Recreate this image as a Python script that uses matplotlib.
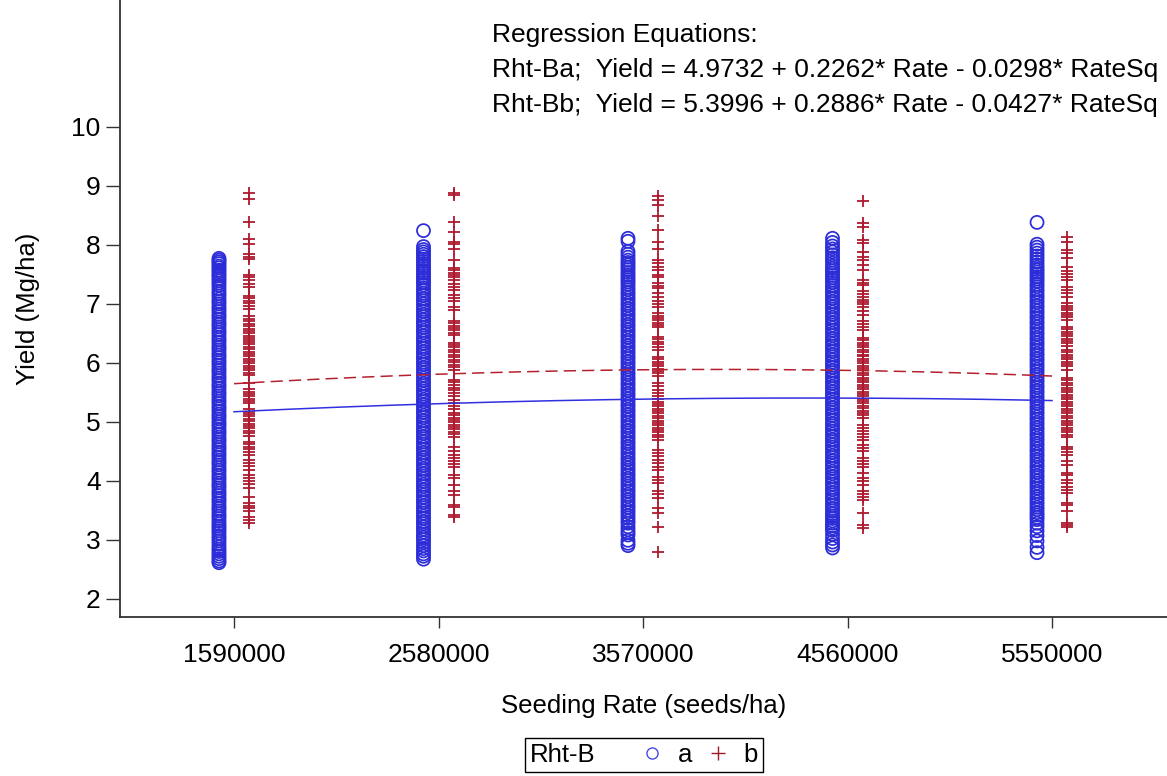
import numpy as np
import matplotlib
matplotlib.use("Agg")
import matplotlib.pyplot as plt
from matplotlib.lines import Line2D
from matplotlib.offsetbox import HPacker

plt.rcParams["font.family"] = ["Liberation Sans", "DejaVu Sans"]

# Seeding-rate levels (Rate = 1..5 in the regression) and their labels
rate_index = [1, 2, 3, 4, 5]
rate_labels = ["1590000", "2580000", "3570000", "4560000", "5550000"]

# Yield (Mg/ha) observations, Rht-Ba, one list per seeding rate
yield_a_1590 = [7.77, 7.74, 7.71, 7.68, 7.64, 7.61, 7.57, 7.54, 7.50, 7.47, 7.43, 7.39, 7.35,
                7.31, 7.26, 7.21, 7.17, 7.13, 7.08, 7.04, 7.00, 6.95, 6.91, 6.87, 6.82, 6.78, 6.74,
                6.69, 6.65, 6.61, 6.56, 6.52, 6.48, 6.43, 6.39, 6.35, 6.30, 6.26, 6.22, 6.17, 6.13,
                6.09, 6.04, 6.00, 5.96, 5.91, 5.87, 5.83, 5.78, 5.74, 5.70, 5.65, 5.61, 5.57, 5.52,
                5.48, 5.44, 5.39, 5.35, 5.31, 5.26, 5.22, 5.18, 5.13, 5.09, 5.05, 5.00, 4.96, 4.92,
                4.87, 4.83, 4.79, 4.74, 4.70, 4.66, 4.61, 4.57, 4.53, 4.48, 4.44, 4.40, 4.35, 4.31,
                4.27, 4.22, 4.18, 4.14, 4.09, 4.05, 4.01, 3.96, 3.92, 3.88, 3.83, 3.79, 3.75, 3.70,
                3.66, 3.62, 3.57, 3.53, 3.49, 3.44, 3.40, 3.36, 3.31, 3.27, 3.23, 3.19, 3.15, 3.11,
                3.06, 3.02, 2.98, 2.93, 2.88, 2.84, 2.80, 2.76, 2.72, 2.68, 2.64, 2.61]
yield_a_2580 = [8.24, 7.97, 7.92, 7.88, 7.84, 7.80, 7.76, 7.72, 7.68, 7.64, 7.60, 7.56, 7.52,
                7.48, 7.44, 7.40, 7.36, 7.32, 7.27, 7.23, 7.18, 7.14, 7.09, 7.05, 7.00, 6.96, 6.91,
                6.87, 6.82, 6.78, 6.73, 6.69, 6.64, 6.60, 6.55, 6.51, 6.46, 6.42, 6.37, 6.33, 6.28,
                6.24, 6.19, 6.15, 6.10, 6.06, 6.01, 5.97, 5.92, 5.88, 5.83, 5.79, 5.74, 5.70, 5.65,
                5.61, 5.56, 5.52, 5.47, 5.43, 5.38, 5.34, 5.29, 5.25, 5.20, 5.16, 5.11, 5.07, 5.02,
                4.98, 4.93, 4.89, 4.84, 4.80, 4.75, 4.71, 4.66, 4.62, 4.57, 4.53, 4.48, 4.44, 4.39,
                4.35, 4.30, 4.26, 4.21, 4.17, 4.12, 4.08, 4.03, 3.99, 3.94, 3.90, 3.85, 3.81, 3.76,
                3.72, 3.67, 3.63, 3.58, 3.54, 3.49, 3.45, 3.40, 3.36, 3.31, 3.27, 3.22, 3.18, 3.13,
                3.08, 3.04, 3.00, 2.95, 2.90, 2.85, 2.81, 2.76, 2.72, 2.67]
yield_a_3570 = [8.11, 8.06, 7.89, 7.84, 7.79, 7.74, 7.70, 7.66, 7.62, 7.58, 7.53, 7.49, 7.45,
                7.41, 7.37, 7.33, 7.28, 7.24, 7.19, 7.15, 7.10, 7.06, 7.01, 6.97, 6.92, 6.88, 6.83,
                6.79, 6.74, 6.70, 6.65, 6.61, 6.56, 6.52, 6.47, 6.43, 6.38, 6.34, 6.29, 6.25, 6.20,
                6.16, 6.11, 6.07, 6.02, 5.98, 5.93, 5.89, 5.84, 5.80, 5.75, 5.71, 5.66, 5.62, 5.57,
                5.53, 5.48, 5.44, 5.39, 5.35, 5.30, 5.26, 5.21, 5.17, 5.12, 5.08, 5.03, 4.99, 4.94,
                4.90, 4.85, 4.81, 4.76, 4.72, 4.67, 4.63, 4.58, 4.54, 4.49, 4.45, 4.40, 4.36, 4.31,
                4.27, 4.22, 4.18, 4.13, 4.09, 4.04, 4.00, 3.95, 3.91, 3.86, 3.82, 3.77, 3.73, 3.68,
                3.64, 3.59, 3.55, 3.50, 3.46, 3.41, 3.37, 3.32, 3.28, 3.22, 3.17, 3.12, 3.08, 2.99,
                2.94, 2.90]
yield_a_4560 = [8.11, 8.04, 7.98, 7.93, 7.88, 7.83, 7.78, 7.74, 7.69, 7.64, 7.60, 7.56, 7.52,
                7.48, 7.44, 7.40, 7.36, 7.31, 7.27, 7.22, 7.18, 7.13, 7.09, 7.04, 7.00, 6.95, 6.91,
                6.86, 6.82, 6.77, 6.73, 6.68, 6.64, 6.59, 6.55, 6.50, 6.46, 6.41, 6.37, 6.32, 6.28,
                6.23, 6.19, 6.14, 6.10, 6.05, 6.01, 5.96, 5.92, 5.87, 5.83, 5.78, 5.74, 5.69, 5.65,
                5.60, 5.56, 5.51, 5.47, 5.42, 5.38, 5.33, 5.29, 5.24, 5.20, 5.15, 5.11, 5.06, 5.02,
                4.97, 4.93, 4.88, 4.84, 4.79, 4.75, 4.70, 4.66, 4.61, 4.57, 4.52, 4.48, 4.43, 4.39,
                4.34, 4.30, 4.25, 4.21, 4.16, 4.12, 4.07, 4.03, 3.98, 3.94, 3.89, 3.85, 3.80, 3.76,
                3.71, 3.67, 3.62, 3.58, 3.53, 3.49, 3.44, 3.40, 3.36, 3.32, 3.28, 3.24, 3.20, 3.16,
                3.09, 3.02, 2.96, 2.91, 2.86]
yield_a_5550 = [8.38, 8.01, 7.96, 7.91, 7.86, 7.81, 7.76, 7.71, 7.66, 7.62, 7.58, 7.54, 7.50,
                7.46, 7.42, 7.38, 7.33, 7.29, 7.24, 7.20, 7.15, 7.11, 7.06, 7.02, 6.97, 6.93, 6.88,
                6.84, 6.79, 6.75, 6.70, 6.66, 6.61, 6.57, 6.52, 6.48, 6.43, 6.39, 6.34, 6.30, 6.25,
                6.21, 6.16, 6.12, 6.07, 6.03, 5.98, 5.94, 5.89, 5.85, 5.80, 5.76, 5.71, 5.67, 5.62,
                5.58, 5.53, 5.49, 5.44, 5.40, 5.35, 5.31, 5.26, 5.22, 5.17, 5.13, 5.08, 5.04, 4.99,
                4.95, 4.90, 4.86, 4.81, 4.77, 4.72, 4.68, 4.63, 4.59, 4.54, 4.50, 4.45, 4.41, 4.36,
                4.32, 4.27, 4.23, 4.18, 4.14, 4.09, 4.05, 4.00, 3.96, 3.91, 3.87, 3.82, 3.78, 3.73,
                3.69, 3.64, 3.60, 3.55, 3.51, 3.46, 3.42, 3.38, 3.34, 3.28, 3.22, 3.15, 3.07, 2.98,
                2.87, 2.78]

# Yield (Mg/ha) observations, Rht-Bb, one list per seeding rate
yield_b_1590 = [8.87, 8.78, 8.38, 8.10, 8.02, 7.84, 7.80, 7.76, 7.49, 7.45, 7.40, 7.33, 7.28,
                7.13, 7.09, 7.05, 7.01, 6.97, 6.92, 6.79, 6.74, 6.70, 6.66, 6.62, 6.58, 6.54, 6.50,
                6.46, 6.42, 6.38, 6.35, 6.31, 6.27, 6.23, 6.19, 6.15, 6.11, 6.07, 6.03, 5.99, 5.95,
                5.91, 5.87, 5.83, 5.79, 5.65, 5.55, 5.51, 5.47, 5.43, 5.39, 5.35, 5.31, 5.21, 5.17,
                5.13, 5.09, 5.05, 5.01, 4.97, 4.93, 4.89, 4.85, 4.81, 4.76, 4.66, 4.62, 4.57, 4.53,
                4.48, 4.43, 4.35, 4.30, 4.25, 4.19, 4.10, 4.05, 4.00, 3.95, 3.88, 3.73, 3.62, 3.58,
                3.53, 3.48, 3.39, 3.33, 3.28]
yield_b_2580 = [8.88, 8.85, 8.39, 8.22, 8.04, 8.01, 7.93, 7.74, 7.61, 7.57, 7.53, 7.49, 7.45,
                7.41, 7.33, 7.28, 7.24, 7.15, 7.10, 7.05, 6.95, 6.90, 6.71, 6.67, 6.63, 6.59, 6.55,
                6.51, 6.47, 6.34, 6.30, 6.26, 6.22, 6.18, 6.14, 6.10, 6.05, 6.01, 5.96, 5.92, 5.88,
                5.71, 5.67, 5.62, 5.58, 5.53, 5.48, 5.44, 5.37, 5.32, 5.27, 5.21, 5.15, 5.11, 5.07,
                5.03, 4.99, 4.95, 4.91, 4.87, 4.83, 4.79, 4.75, 4.58, 4.51, 4.44, 4.39, 4.34, 4.29,
                4.24, 4.10, 4.04, 3.93, 3.82, 3.76, 3.59, 3.56, 3.42, 3.38]
yield_b_3570 = [8.82, 8.76, 8.68, 8.48, 8.25, 8.04, 7.93, 7.74, 7.69, 7.63, 7.58, 7.49, 7.46,
                7.35, 7.30, 7.26, 7.18, 7.12, 7.04, 6.99, 6.95, 6.84, 6.80, 6.76, 6.72, 6.68, 6.64,
                6.61, 6.44, 6.40, 6.35, 6.31, 6.27, 6.22, 6.10, 6.06, 6.02, 5.98, 5.94, 5.90, 5.86,
                5.82, 5.77, 5.65, 5.60, 5.54, 5.48, 5.43, 5.38, 5.34, 5.30, 5.26, 5.22, 5.18, 5.14,
                5.10, 5.06, 5.02, 4.98, 4.94, 4.90, 4.86, 4.82, 4.78, 4.74, 4.69, 4.52, 4.47, 4.42,
                4.35, 4.30, 4.24, 4.18, 4.07, 4.02, 3.96, 3.82, 3.77, 3.71, 3.54, 3.45, 3.22, 2.80]
yield_b_4560 = [8.74, 8.37, 8.31, 8.08, 8.03, 7.87, 7.80, 7.74, 7.66, 7.58, 7.41, 7.36, 7.32,
                7.21, 7.16, 7.12, 7.07, 7.03, 6.99, 6.95, 6.87, 6.81, 6.70, 6.66, 6.61, 6.56, 6.42,
                6.38, 6.34, 6.30, 6.26, 6.22, 6.18, 6.14, 6.11, 6.07, 6.03, 5.99, 5.95, 5.91, 5.87,
                5.83, 5.79, 5.75, 5.71, 5.67, 5.63, 5.59, 5.55, 5.51, 5.47, 5.43, 5.39, 5.35, 5.31,
                5.27, 5.23, 5.19, 5.15, 5.11, 5.06, 4.95, 4.90, 4.84, 4.79, 4.74, 4.69, 4.61, 4.55,
                4.50, 4.38, 4.33, 4.28, 4.24, 4.13, 4.04, 3.99, 3.93, 3.82, 3.77, 3.72, 3.68, 3.45,
                3.25, 3.20]
yield_b_5550 = [8.13, 8.05, 7.91, 7.86, 7.77, 7.63, 7.55, 7.50, 7.45, 7.40, 7.29, 7.24, 7.18,
                7.12, 7.01, 6.97, 6.93, 6.89, 6.85, 6.81, 6.77, 6.73, 6.61, 6.57, 6.53, 6.49, 6.45,
                6.41, 6.37, 6.33, 6.28, 6.22, 6.18, 6.14, 6.10, 6.06, 6.02, 5.98, 5.94, 5.88, 5.74,
                5.70, 5.66, 5.62, 5.58, 5.54, 5.50, 5.46, 5.42, 5.38, 5.34, 5.30, 5.26, 5.22, 5.18,
                5.14, 5.10, 5.06, 5.02, 4.98, 4.94, 4.90, 4.86, 4.82, 4.78, 4.75, 4.58, 4.53, 4.48,
                4.44, 4.33, 4.27, 4.13, 4.10, 4.02, 3.96, 3.90, 3.84, 3.79, 3.62, 3.59, 3.48, 3.28,
                3.25, 3.22]

# Quadratic regression coefficients: intercept, Rate, RateSq
coef_a = [4.9732, 0.2262, -0.0298]
coef_b = [5.3996, 0.2886, -0.0427]

groups_a = [yield_a_1590, yield_a_2580, yield_a_3570, yield_a_4560, yield_a_5550]
groups_b = [yield_b_1590, yield_b_2580, yield_b_3570, yield_b_4560, yield_b_5550]

blue = "#2c2cd8"
red = "#ad1a2e"
offset = 0.0735

fig = plt.figure(figsize=(11.67, 7.76), dpi=100)
ax = fig.add_axes([120 / 1167, 1 - 617 / 776, 1 - 120 / 1167, 617 / 776])

for r, ya, yb in zip(rate_index, groups_a, groups_b):
    ax.scatter(np.full(len(ya), r - offset), ya, s=88, marker="o",
               facecolors="none", edgecolors=blue, linewidths=1.25, zorder=2)
    ax.scatter(np.full(len(yb), r + offset), yb, s=85, marker="+",
               color=red, linewidths=1.3, zorder=2)

# Fitted curves evaluated from the regression equations
rate_grid = np.linspace(rate_index[0], rate_index[-1], 200)
fit_a = coef_a[0] + coef_a[1] * rate_grid + coef_a[2] * rate_grid ** 2
fit_b = coef_b[0] + coef_b[1] * rate_grid + coef_b[2] * rate_grid ** 2
ax.plot(rate_grid, fit_a, color="#3030e0", lw=1.1, zorder=3)
ax.plot(rate_grid, fit_b, color="#b4202e", lw=1.1, ls=(0, (8, 4)), zorder=3)

ax.set_xlim(0.4425, 5.562)
ax.set_ylim(1.69, 12.15)
ax.set_xticks(rate_index)
ax.set_xticklabels(rate_labels)
ax.set_yticks(range(2, 11))

for side in ("top", "right"):
    ax.spines[side].set_visible(False)
for side in ("left", "bottom"):
    ax.spines[side].set_linewidth(1.3)
    ax.spines[side].set_color("#333333")

ax.tick_params(axis="y", direction="out", length=10, width=1.0, pad=4,
               labelsize=19, color="#333333")
ax.tick_params(axis="x", direction="out", length=8, width=1.0, pad=11,
               labelsize=19, color="#333333")

ax.set_xlabel("Seeding Rate (seeds/ha)", fontsize=18.5)
ax.set_ylabel("Yield (Mg/ha)", fontsize=18.5)
ax.xaxis.set_label_coords(0.5, -0.144)
ax.xaxis.label.set_verticalalignment("center")
ax.yaxis.set_label_coords(-0.088, 0.5)
ax.yaxis.label.set_verticalalignment("center")

eq_x = 492 / 1167
fig.text(eq_x, 1 - 35 / 776, "Regression Equations:", fontsize=19, va="center", ha="left")
fig.text(eq_x, 1 - 70 / 776, "Rht-Ba;  Yield = 4.9732 + 0.2262* Rate - 0.0298* RateSq",
         fontsize=19, va="center", ha="left")
fig.text(eq_x, 1 - 105 / 776, "Rht-Bb;  Yield = 5.3996 + 0.2886* Rate - 0.0427* RateSq",
         fontsize=19, va="center", ha="left")

# Legend: group title followed inline by the two genotype entries
handles = [
    Line2D([], [], ls="none", marker="o", ms=8, mfc="none", mec="#4848e8", mew=1.0),
    Line2D([], [], ls="none", marker="+", ms=10, color="#a01828", mew=1.0),
]
leg = fig.legend(handles, ["a", "b"], title="Rht-B", ncol=2, fontsize=18.5, title_fontsize=18.5,
                 loc="center", bbox_to_anchor=(644 / 1167, 1 - 755 / 776),
                 frameon=True, fancybox=False, edgecolor="black", framealpha=1,
                 handlelength=0.8, handletextpad=0.6, columnspacing=0.6,
                 borderpad=0.15, borderaxespad=0)
leg.get_frame().set_linewidth(1.0)
fs = 18.5 * 100 / 72
inline_box = HPacker(pad=leg.borderpad * fs, sep=1.3 * fs, align="center",
                     children=[leg._legend_title_box, leg._legend_handle_box])
inline_box.set_figure(fig)
inline_box.axes = leg.axes
inline_box.set_offset(leg._findoffset)
leg._legend_box = inline_box

fig.savefig("out.png", dpi=100)
